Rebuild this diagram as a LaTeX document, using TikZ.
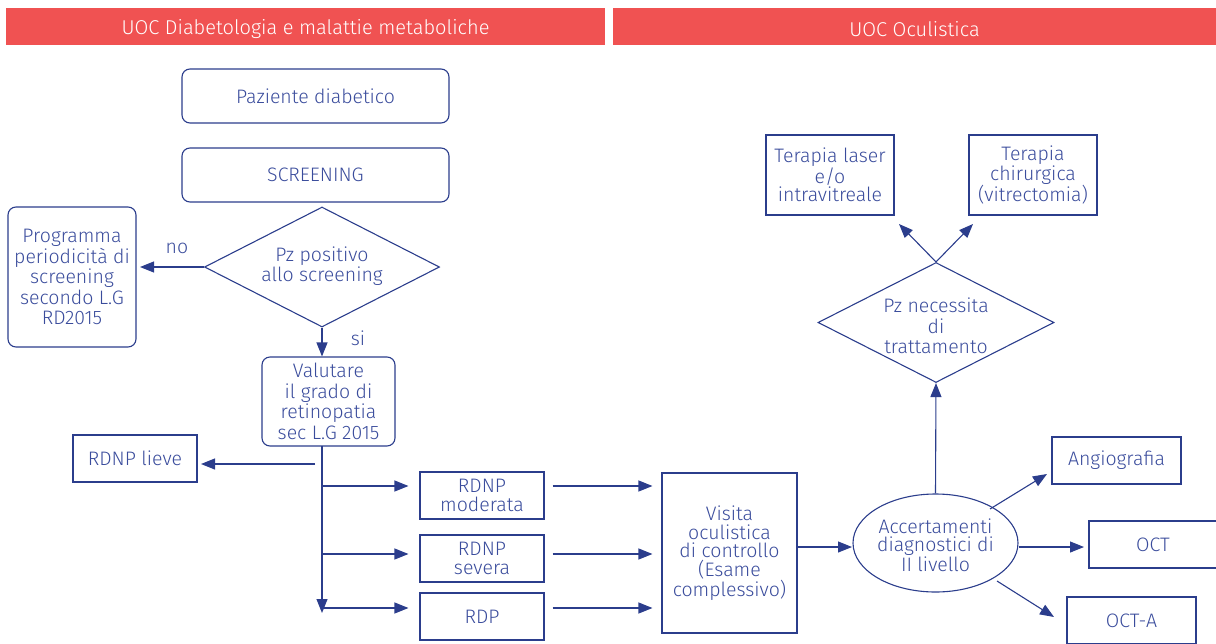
\documentclass[tikz,border=0pt]{standalone}
\usepackage{fontspec}
\setmainfont{Fira Sans Light}
\usetikzlibrary{shapes.geometric,arrows.meta}
\definecolor{hdr}{HTML}{F05252}
\definecolor{navy}{HTML}{2B3D8C}
\definecolor{txt}{HTML}{3A4C9C}
\begin{document}
\begin{tikzpicture}[x=1pt,y=-1pt,
  every node/.style={font=\fontsize{19.5}{20.5}\selectfont, text=txt, align=center, inner sep=0pt},
  tight/.style={font=\fontsize{19.5}{18.5}\selectfont},
  rbox/.style={draw=navy, line width=1.1pt, rounded corners=8pt},
  sbox/.style={draw=navy, line width=1.1pt},
  dia/.style={draw=navy, line width=1.1pt, diamond},
  hbar/.style={fill=hdr, minimum height=37pt},
  htext/.style={text=white, font=\fontsize{20}{22}\selectfont},
  arr/.style={draw=navy, line width=1.1pt, -{Triangle[length=14pt,width=11pt]}},
  ln/.style={draw=navy, line width=1.1pt}]
\useasboundingbox (0,0) rectangle (1216,643);
\clip (0,0) rectangle (1216,643);
% headers
\node[hbar, minimum width=599pt] (h1) at (305.5,26.5) {};
\node[htext] (h1t) at (305.5,29) {UOC Diabetologia e malattie metaboliche};
\node[hbar, minimum width=603pt] (h2) at (914.5,26.5) {};
\node[htext] (h2t) at (914.5,29) {UOC Oculistica};
% left column
\node[rbox, minimum width=267pt, minimum height=54pt] (paz) at (315.5,96) {Paziente diabetico};
\node[rbox, minimum width=267pt, minimum height=54pt] (scr) at (315.5,175) {SCREENING};
\node[dia, minimum width=235pt, minimum height=120pt] (d1) at (322,267) {};
\node (d1t) at (322,266) {Pz positivo\\allo screening};
\node[rbox, minimum width=128pt, minimum height=140pt] (prog) at (72,277) {Programma\\periodicità di\\screening\\secondo L.G\\RD2015};
\node[rbox, minimum width=133pt, minimum height=89pt] (val) at (328.5,401.5) {Valutare\\il grado di\\retinopatia\\sec L.G 2015};
\node[sbox, minimum width=124pt, minimum height=47pt] (lieve) at (135,458.5) {RDNP lieve};
\node[sbox, minimum width=124pt, minimum height=47pt, tight] (mod) at (482,495.5) {RDNP\\moderata};
\node[sbox, minimum width=124pt, minimum height=47pt, tight] (sev) at (482,558.5) {RDNP\\severa};
\node[sbox, minimum width=124pt, minimum height=47pt] (rdp) at (482,616.5) {RDP};
\node[sbox, minimum width=135pt, minimum height=160pt, tight] (vis) at (729.5,553) {Visita\\oculistica\\di controllo\\(Esame\\complessivo)};
\node[ellipse, draw=navy, line width=1.1pt, minimum width=165pt, minimum height=98pt, inner sep=0pt] (acc) at (935.5,543) {};
\node[tight] (acct) at (935.5,545) {Accertamenti\\diagnostici di\\II livello};
\node[dia, minimum width=236pt, minimum height=120pt] (d2) at (936,322.5) {};
\node (d2t) at (936,326) {Pz necessita\\di\\trattamento};
\node[sbox, minimum width=128pt, minimum height=80pt, tight] (las) at (830,175) {Terapia laser\\e/o\\intravitreale};
\node[sbox, minimum width=128pt, minimum height=80pt, tight] (chi) at (1033,175) {Terapia\\chirurgica\\(vitrectomia)};
\node[sbox, minimum width=129pt, minimum height=47pt] (ang) at (1116.5,460.5) {Angiografia};
\node[sbox, minimum width=128pt, minimum height=47pt] (oct) at (1153,544.5) {OCT};
\node[sbox, minimum width=129pt, minimum height=47pt] (octa) at (1131.5,620.5) {OCT-A};
\node (no) at (177,248) {no};
\node (si) at (358,338) {si};
% coordinates
\coordinate (tv) at (322,446);
\coordinate (bv) at (322,613);
\coordinate (bv0) at (322,598);
\coordinate (lv0) at (315,464);
\coordinate (lv1) at (201,464);
\coordinate (b1) at (322,486);
\coordinate (b2) at (322,554);
\coordinate (b3) at (322,608);
\coordinate (no1) at (140,267);
\coordinate (ve0) at (797,547);
\coordinate (ve1) at (852,547);
\coordinate (las1) at (899,224);
\coordinate (chi1) at (973,224);
\coordinate (ang0) at (990,509);
\coordinate (ang1) at (1047,474);
\coordinate (oct0) at (1019,547);
\coordinate (oct1) at (1084,547);
\coordinate (octa0) at (997,581);
\coordinate (octa1) at (1054,617);
% connectors
\draw[arr] (d1.west) -- (no1);
\draw[arr] (d1.south) -- (val.north-|d1.south);
\draw[ln] (tv) -- (bv0);
\draw[arr] (bv0) -- (bv);
\draw[arr] (lv0) -- (lv1);
\draw[arr] (b1) -- ([xshift=-11pt]b1-|mod.west);
\draw[arr] (b2) -- ([xshift=-11pt]b2-|sev.west);
\draw[arr] (b3) -- ([xshift=-11pt]b3-|rdp.west);
\draw[arr] ([xshift=8pt]b1-|mod.east) -- ([xshift=-9pt]b1-|vis.west);
\draw[arr] ([xshift=8pt]b2-|sev.east) -- ([xshift=-9pt]b2-|vis.west);
\draw[arr] ([xshift=8pt]b3-|rdp.east) -- ([xshift=-9pt]b3-|vis.west);
\draw[arr] (ve0) -- (ve1);
\draw[arr] (acc.north) -- (d2.south);
\draw[arr] (d2.north) -- (las1);
\draw[arr] (d2.north) -- (chi1);
\draw[arr] (ang0) -- (ang1);
\draw[arr] (oct0) -- (oct1);
\draw[arr] (octa0) -- (octa1);
\end{tikzpicture}
\end{document}
